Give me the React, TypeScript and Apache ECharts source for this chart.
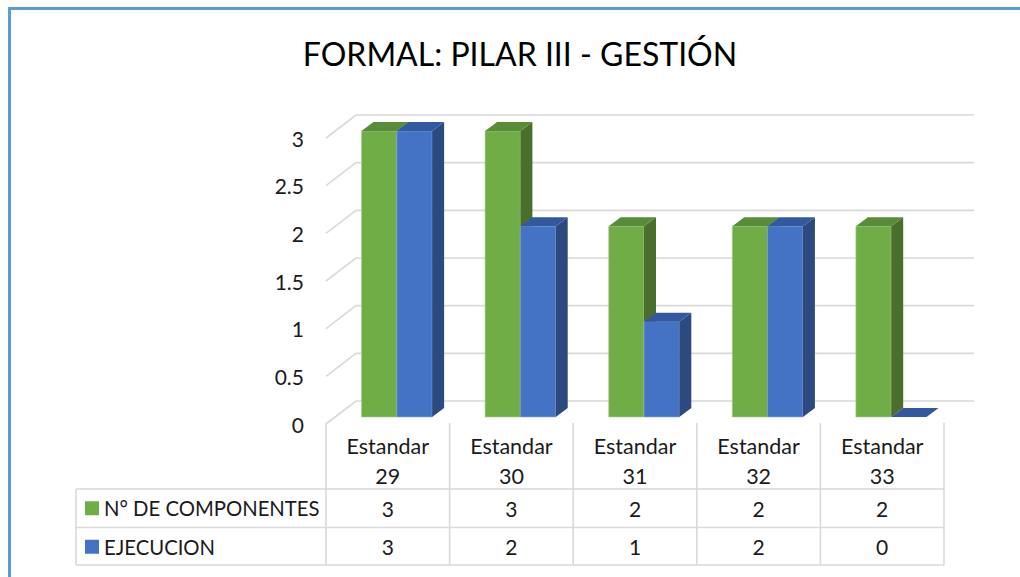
import React, { useEffect, useRef } from "react";
import * as echarts from "echarts";

const title = "FORMAL: PILAR III - GESTIÓN";
const categories = ["Estandar 29", "Estandar 30", "Estandar 31", "Estandar 32", "Estandar 33"];
const seriesNames = ["N° DE COMPONENTES", "EJECUCION"];
const componentes = [3, 3, 2, 2, 2];
const ejecucion = [3, 2, 1, 2, 0];
const yTicks = [0, 0.5, 1, 1.5, 2, 2.5, 3];

const FONT = "Lato, 'Noto Sans', sans-serif";
const TXT = "#1a1a1a";
const LINE = "#D9D9D9";

// layout (front edge plane of the 3D floor)
const GRID_L = 326;
const GRID_R = 76;
const GRID_T = 138;
const GRID_B = 153;
const W = 1020;
const H = 577;
const BAR_DX = 9, BAR_DY = -7;
const DEP_X = 12, DEP_Y = -9;
const BACK_X = 30, BACK_Y = -23;

const palettes = [
  { front: "#70AD47", top: "#588C38", side: "#4A6E2B", edge: "#A9D18E" },
  { front: "#4472C4", top: "#3358A0", side: "#2C4A7F", edge: "#8FAADC" },
];

function barRenderer(sIdx: number) {
  const p = palettes[sIdx];
  return (params: any, api: any) => {
    const cat = api.value(0);
    const val = api.value(1);
    const base = api.coord([cat, 0]);
    const topP = api.coord([cat, val]);
    const band = api.size([1, 0])[0];
    const w = band / 3.5;
    const x0 = base[0] + BAR_DX + (sIdx === 0 ? -w : 0);
    const x1 = x0 + w;
    const yb = base[1] + BAR_DY;
    const yt = topP[1] + BAR_DY;
    const children: any[] = [];
    if (yb - yt > 0.5) {
      children.push({
        type: "polygon",
        shape: { points: [[x0, yt], [x1, yt], [x1, yb], [x0, yb]] },
        style: { fill: p.front, stroke: p.edge, lineWidth: 0.6 },
      });
      children.push({
        type: "polygon",
        shape: { points: [[x1, yt], [x1 + DEP_X, yt + DEP_Y], [x1 + DEP_X, yb + DEP_Y], [x1, yb]] },
        style: { fill: p.side },
      });
    }
    children.push({
      type: "polygon",
      shape: { points: [[x0, yt], [x1, yt], [x1 + DEP_X, yt + DEP_Y], [x0 + DEP_X, yt + DEP_Y]] },
      style: { fill: p.top },
    });
    return { type: "group", children };
  };
}

function gridRenderer(params: any, api: any) {
  const cs = params.coordSys;
  const y = api.coord([0, api.value(1)])[1];
  return {
    type: "polyline",
    shape: {
      points: [
        [cs.x, y],
        [cs.x + BACK_X, y + BACK_Y],
        [cs.x + cs.width + BACK_X, y + BACK_Y],
      ],
    },
    style: { stroke: LINE, lineWidth: 1.6, fill: null },
  };
}

export default function App() {
  const ref = useRef<HTMLDivElement>(null);
  useEffect(() => {
    if (!ref.current) return;
    const chart = echarts.init(ref.current, undefined, { renderer: "svg" });

    const plotW = W - GRID_L - GRID_R;
    const band = plotW / categories.length;
    const floorY = H - GRID_B;
    const row1 = 489;
    const row2 = 527.5;
    const row3 = 565;

    const tableLines: any[] = [];
    for (let k = 0; k <= categories.length; k++) {
      const x = GRID_L + k * band;
      tableLines.push({
        type: "line",
        shape: { x1: x, y1: floorY - 1, x2: x, y2: row3 },
        style: { stroke: LINE, lineWidth: 1.6 },
      });
    }
    [row1, row2, row3].forEach((y) => {
      tableLines.push({
        type: "line",
        shape: { x1: 76, y1: y, x2: GRID_L + plotW, y2: y },
        style: { stroke: LINE, lineWidth: 1.6 },
      });
    });
    tableLines.push({
      type: "line",
      shape: { x1: 76, y1: row1, x2: 76, y2: row3 },
      style: { stroke: LINE, lineWidth: 1.6 },
    });

    const option: any = {
      animation: false,
      backgroundColor: "#ffffff",
      textStyle: { fontFamily: FONT },
      grid: { left: GRID_L, right: GRID_R, top: GRID_T, bottom: GRID_B, containLabel: false },
      legend: {
        data: seriesNames,
        orient: "vertical",
        left: 85,
        top: row1,
        padding: 0,
        itemGap: 0,
        itemWidth: 14,
        itemHeight: 14,
        icon: "rect",
        selectedMode: false,
        textStyle: { fontSize: 20.3, lineHeight: 38.5, color: TXT, fontFamily: FONT },
      },
      xAxis: [
        {
          type: "category",
          data: categories,
          position: "bottom",
          axisLine: { show: false },
          axisTick: { show: false },
          axisLabel: {
            interval: 0,
            margin: 7,
            fontSize: 21.5,
            lineHeight: 30,
            color: TXT,
            fontFamily: FONT,
            formatter: (v: string) => v.replace(" ", "\n"),
          },
        },
        {
          type: "category",
          data: categories,
          position: "bottom",
          offset: row1 - floorY,
          axisLine: { show: false },
          axisTick: { show: false },
          axisLabel: {
            interval: 0,
            margin: 0,
            fontSize: 21,
            lineHeight: row2 - row1,
            color: TXT,
            fontFamily: FONT,
            formatter: (_v: string, i: number) => String(componentes[i]),
          },
        },
        {
          type: "category",
          data: categories,
          position: "bottom",
          offset: row2 - floorY,
          axisLine: { show: false },
          axisTick: { show: false },
          axisLabel: {
            interval: 0,
            margin: 0,
            fontSize: 21,
            lineHeight: row3 - row2,
            color: TXT,
            fontFamily: FONT,
            formatter: (_v: string, i: number) => String(ejecucion[i]),
          },
        },
      ],
      yAxis: {
        type: "value",
        min: 0,
        max: 3,
        interval: 0.5,
        axisLine: { show: false },
        axisTick: { show: false },
        splitLine: { show: false },
        axisLabel: { margin: 22, fontSize: 21, color: TXT, fontFamily: FONT },
      },
      graphic: [
        {
          type: "rect",
          shape: { x: 9.5, y: 8.5, width: 1200, height: 1000 },
          style: { stroke: "#5B9BD5", lineWidth: 3, fill: "none" },
          silent: true,
        },
        {
          type: "text",
          x: 520,
          y: 53,
          style: {
            text: title,
            fontSize: 32,
            fontFamily: FONT,
            fill: "#000000",
            textAlign: "center",
            textVerticalAlign: "middle",
          },
          silent: true,
        },
        ...tableLines,
      ],
      series: [
        {
          type: "custom",
          name: "grid3d",
          silent: true,
          z: 1,
          renderItem: gridRenderer,
          data: yTicks.map((v) => [0, v]),
        },
        {
          type: "custom",
          name: seriesNames[0],
          z: 2,
          itemStyle: { color: palettes[0].front },
          renderItem: barRenderer(0),
          encode: { x: 0, y: 1 },
          data: componentes.map((v, i) => [i, v]),
        },
        {
          type: "custom",
          name: seriesNames[1],
          z: 3,
          itemStyle: { color: palettes[1].front },
          renderItem: barRenderer(1),
          encode: { x: 0, y: 1 },
          data: ejecucion.map((v, i) => [i, v]),
        },
      ],
    };
    chart.setOption(option);
    return () => chart.dispose();
  }, []);
  return (
    <div
      ref={ref}
      style={{ position: "fixed", left: 0, top: 0, width: W, height: H, background: "#fff" }}
    />
  );
}
